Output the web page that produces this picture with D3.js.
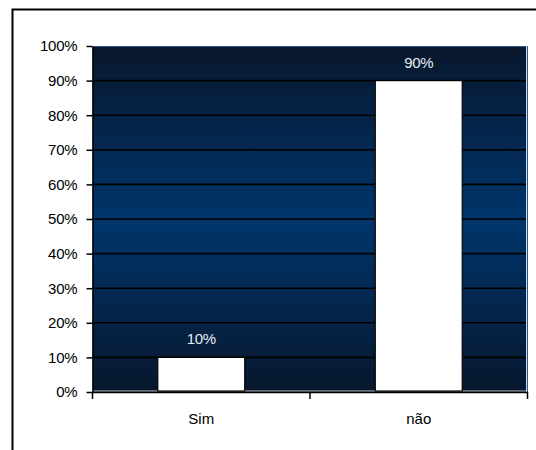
<!DOCTYPE html>
<html>
<head>
<meta charset="utf-8">
<script src="https://cdn.jsdelivr.net/npm/d3@7/dist/d3.min.js"></script>
<style>
  html, body { margin: 0; padding: 0; background: #fff; }
  svg { display: block; }
  text { font-family: "Liberation Sans", Arial, sans-serif; }
</style>
</head>
<body>
<svg id="chart" width="536" height="450"></svg>
<script>
const categories = ["Sim", "não"];
const values = [0.10, 0.90];
const valueLabels = ["10%", "90%"];
const yTicks = [0, 0.1, 0.2, 0.3, 0.4, 0.5, 0.6, 0.7, 0.8, 0.9, 1.0];

const svg = d3.select("#chart");
const plot = { left: 92.5, right: 527.5, top: 46, bottom: 392 };

// outer frame
svg.append("rect")
  .attr("x", 12.5).attr("y", 9.5)
  .attr("width", 700).attr("height", 700)
  .attr("fill", "none").attr("stroke", "#000").attr("stroke-width", 2);

const x = d3.scaleBand().domain(categories)
  .range([plot.left, plot.right]).paddingInner(0.6).paddingOuter(0.3);
const y = d3.scaleLinear().domain([0, 1]).range([plot.bottom, plot.top]);

const defs = svg.append("defs");
const grad = defs.append("linearGradient").attr("id", "bg")
  .attr("x1", 0).attr("y1", 0).attr("x2", 0).attr("y2", 1);
grad.append("stop").attr("offset", "0%").attr("stop-color", "#09172d");
grad.append("stop").attr("offset", "50%").attr("stop-color", "#00356c");
grad.append("stop").attr("offset", "100%").attr("stop-color", "#08172d");

svg.append("rect")
  .attr("x", plot.left).attr("y", plot.top)
  .attr("width", plot.right - plot.left).attr("height", plot.bottom - plot.top)
  .attr("fill", "url(#bg)");

// top / right light border of plot area
svg.append("line").attr("x1", plot.left).attr("x2", plot.right)
  .attr("y1", plot.top + 0.5).attr("y2", plot.top + 0.5)
  .attr("stroke", "#2f5a8f").attr("stroke-width", 1);
svg.append("line").attr("x1", plot.right - 1).attr("x2", plot.right - 1)
  .attr("y1", plot.top).attr("y2", plot.bottom)
  .attr("stroke", "#c9d6e6").attr("stroke-width", 1);
svg.append("line").attr("x1", plot.right).attr("x2", plot.right)
  .attr("y1", plot.top).attr("y2", plot.bottom)
  .attr("stroke", "#2f5a8f").attr("stroke-width", 1);

// gridlines
svg.append("g").selectAll("line")
  .data(yTicks.filter(d => d > 0 && d < 1))
  .join("line")
  .attr("x1", plot.left).attr("x2", plot.right - 1.5)
  .attr("y1", d => y(d)).attr("y2", d => y(d))
  .attr("stroke", "#000").attr("stroke-width", 1.6);

// bottom light line
svg.append("line").attr("x1", plot.left).attr("x2", plot.right - 1)
  .attr("y1", plot.bottom - 1).attr("y2", plot.bottom - 1)
  .attr("stroke", "#c8c8c8").attr("stroke-width", 1.2);

// bars
svg.append("g").selectAll("rect")
  .data(categories.map((c, i) => ({ c, v: values[i], l: valueLabels[i] })))
  .join("rect")
  .attr("x", d => x(d.c))
  .attr("y", d => y(d.v))
  .attr("width", x.bandwidth())
  .attr("height", d => y(0) - y(d.v) - 1)
  .attr("fill", "#fff").attr("stroke", "#000").attr("stroke-width", 1.2);

// value labels
svg.append("g").selectAll("text")
  .data(categories.map((c, i) => ({ c, v: values[i], l: valueLabels[i] })))
  .join("text")
  .attr("x", d => x(d.c) + x.bandwidth() / 2)
  .attr("y", d => y(d.v) - 13)
  .attr("text-anchor", "middle")
  .attr("fill", "#e6ebf2")
  .style("font-size", "15px")
  .style("letter-spacing", "-0.3px")
  .text(d => d.l);

// y axis
const yAxis = svg.append("g")
  .attr("transform", `translate(${plot.left},0)`)
  .call(d3.axisLeft(y).tickValues(yTicks).tickFormat(d3.format(".0%"))
    .tickSize(6).tickSizeOuter(0).tickPadding(9));
yAxis.select(".domain").attr("stroke", "#000").attr("stroke-width", 1.5);
yAxis.selectAll(".tick line").attr("stroke", "#000").attr("stroke-width", 1.5);
yAxis.selectAll(".tick text")
  .attr("fill", "#000")
  .style("font-size", "15px")
  .style("letter-spacing", "-0.2px")
  .style("font-family", "'Liberation Sans', Arial, sans-serif");

// x axis
const xAxis = svg.append("g")
  .attr("transform", `translate(0,${plot.bottom})`)
  .call(d3.axisBottom(x).tickSize(0).tickPadding(21));
xAxis.select(".domain").attr("stroke", "#000").attr("stroke-width", 1.5);
xAxis.selectAll(".tick text")
  .attr("fill", "#000")
  .style("font-size", "15px")
  .style("font-family", "'Liberation Sans', Arial, sans-serif");

// category separator ticks
const bounds = [plot.left].concat(categories.map(c => x(c) + x.bandwidth() / 2 + x.step() / 2));
xAxis.append("g").selectAll("line")
  .data(bounds)
  .join("line")
  .attr("x1", d => d).attr("x2", d => d)
  .attr("y1", 0).attr("y2", 7)
  .attr("stroke", "#000").attr("stroke-width", 1.5);
</script>
</body>
</html>
